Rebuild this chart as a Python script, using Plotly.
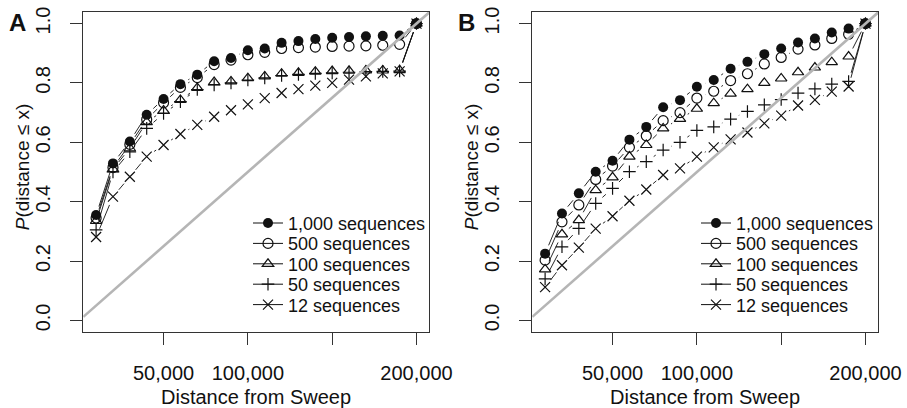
import math
import plotly.graph_objects as go

# Distance from the sweep (bp) at which the cumulative probability is evaluated
distance = [10000, 20000, 30000, 40000, 50000, 60000, 70000, 80000, 90000, 100000,
            110000, 120000, 130000, 140000, 150000, 160000, 170000, 180000, 190000, 200000]

series_labels = ["1,000 sequences", "500 sequences", "100 sequences", "50 sequences", "12 sequences"]

# Panel A: P(distance <= x)
a_seq1000 = [0.355, 0.529, 0.603, 0.693, 0.746, 0.796, 0.828, 0.873, 0.884, 0.910,
             0.916, 0.935, 0.941, 0.948, 0.952, 0.955, 0.957, 0.959, 0.960, 1.0]
a_seq500 = [0.345, 0.515, 0.593, 0.677, 0.733, 0.785, 0.818, 0.862, 0.877, 0.895,
            0.903, 0.916, 0.919, 0.921, 0.923, 0.924, 0.925, 0.927, 0.930, 1.0]
a_seq100 = [0.335, 0.510, 0.580, 0.668, 0.707, 0.743, 0.783, 0.803, 0.805, 0.816,
            0.822, 0.831, 0.834, 0.838, 0.840, 0.841, 0.842, 0.842, 0.843, 1.0]
a_seq50 = [0.305, 0.500, 0.568, 0.647, 0.697, 0.737, 0.778, 0.793, 0.800, 0.810,
           0.817, 0.825, 0.829, 0.832, 0.834, 0.836, 0.838, 0.839, 0.840, 1.0]
a_seq12 = [0.281, 0.417, 0.484, 0.552, 0.591, 0.628, 0.659, 0.686, 0.708, 0.728,
           0.749, 0.766, 0.779, 0.791, 0.800, 0.811, 0.822, 0.832, 0.839, 1.0]

# Panel B: P(distance <= x)
b_seq1000 = [0.225, 0.360, 0.428, 0.501, 0.538, 0.609, 0.652, 0.718, 0.742, 0.787,
             0.810, 0.848, 0.871, 0.897, 0.916, 0.936, 0.950, 0.970, 0.983, 1.0]
b_seq500 = [0.203, 0.332, 0.389, 0.475, 0.520, 0.583, 0.622, 0.673, 0.700, 0.749,
            0.772, 0.808, 0.831, 0.864, 0.886, 0.914, 0.928, 0.950, 0.964, 1.0]
b_seq100 = [0.172, 0.290, 0.338, 0.439, 0.482, 0.552, 0.591, 0.647, 0.679, 0.713,
            0.732, 0.764, 0.779, 0.800, 0.815, 0.836, 0.852, 0.870, 0.889, 1.0]
b_seq50 = [0.140, 0.248, 0.310, 0.394, 0.445, 0.501, 0.535, 0.574, 0.600, 0.640,
           0.652, 0.678, 0.704, 0.726, 0.744, 0.766, 0.780, 0.796, 0.805, 1.0]
b_seq12 = [0.112, 0.186, 0.245, 0.309, 0.351, 0.403, 0.441, 0.490, 0.512, 0.552,
           0.583, 0.610, 0.633, 0.664, 0.690, 0.724, 0.743, 0.771, 0.788, 1.0]

x_tick_values = [50000, 100000, 150000, 200000]
x_tick_labels = ["50,000", "100,000", "", "200,000"]
y_tick_values = [0.0, 0.2, 0.4, 0.6, 0.8, 1.0]
y_tick_labels = ["0.0", "0.2", "0.4", "0.6", "0.8", "1.0"]

# ---------------------------------------------------------------- geometry
W, H = 907, 408
PLOT_W, PLOT_H = 346.0, 320.6
PANEL_LEFT = {"A": 83.3, "B": 532.3}
PLOT_TOP = 11.7
LEGEND_KEY_LEFT = {"A": 253.0, "B": 701.0}
LEGEND_ROW_TOP = 223.3   # centre of the first legend row (px from top)
LEGEND_ROW_STEP = 20.4   # spacing between legend rows (px)

x_span = max(distance) - min(distance)
x_range = [min(distance) - 0.04 * x_span, max(distance) + 0.04 * x_span]
y_range = [-0.04, 1.04]

FONT = "Liberation Sans, Arial, Helvetica, sans-serif"
INK = "#111111"

# marker styles, in series order (1,000 / 500 / 100 / 50 / 12)
marker_styles = [
    dict(symbol="circle", size=10, color=INK, line=dict(width=0, color=INK)),
    dict(symbol="circle-open", size=10, color=INK, line=dict(width=1.2, color=INK)),
    dict(symbol="triangle-up-open", size=10, color=INK, line=dict(width=1.2, color=INK)),
    dict(symbol="cross-thin-open", size=9, color=INK, line=dict(width=1.2, color=INK)),
    dict(symbol="x-thin-open", size=10, color=INK, line=dict(width=1.2, color=INK)),
]

GAP_PX = 9.0  # gap left around each point on the connecting lines


def gapped_path(xs, ys):
    """Connect consecutive points, leaving a gap around each point."""
    sx = PLOT_W / (x_range[1] - x_range[0])
    sy = PLOT_H / (y_range[1] - y_range[0])
    px, py = [], []
    for i in range(len(xs) - 1):
        dx, dy = xs[i + 1] - xs[i], ys[i + 1] - ys[i]
        dist = math.hypot(dx * sx, dy * sy)
        if dist > 2 * GAP_PX:
            f = GAP_PX / dist
            px += [xs[i] + f * dx, xs[i + 1] - f * dx, None]
            py += [ys[i] + f * dy, ys[i + 1] - f * dy, None]
    return px, py


fig = go.Figure()

panels = [
    ("A", "x", "y", [a_seq1000, a_seq500, a_seq100, a_seq50, a_seq12]),
    ("B", "x2", "y2", [b_seq1000, b_seq500, b_seq100, b_seq50, b_seq12]),
]

legend_layouts = {}
legend_font = dict(family=FONT, size=18, color=INK)

for p, (name, xa, ya, values) in enumerate(panels):
    # draw the smallest sample first so the 1,000-sequence points sit on top
    for k in reversed(range(len(values))):
        ys = values[k]
        lx, ly = gapped_path(distance, ys)
        fig.add_trace(go.Scatter(x=lx, y=ly, mode="lines", xaxis=xa, yaxis=ya,
                                 line=dict(color=INK, width=0.9),
                                 showlegend=False, hoverinfo="skip"))
        fig.add_trace(go.Scatter(x=distance, y=ys, mode="markers", xaxis=xa, yaxis=ya,
                                 marker=marker_styles[k], showlegend=False,
                                 name=series_labels[k]))
    # legend: one single-entry legend per row so the row spacing can be set
    for k, label in enumerate(series_labels):
        idx = p * len(series_labels) + k + 1
        key = "legend" if idx == 1 else "legend%d" % idx
        fig.add_trace(go.Scatter(x=[None], y=[None], mode="lines+markers", xaxis=xa, yaxis=ya,
                                 name=label, legend=key,
                                 line=dict(color=INK, width=1), marker=marker_styles[k]))
        legend_layouts[key] = dict(
            font=legend_font, bgcolor="rgba(0,0,0,0)", borderwidth=0,
            xanchor="left", yanchor="middle",
            x=(LEGEND_KEY_LEFT[name] - 5) / W,
            y=1 - (LEGEND_ROW_TOP + k * LEGEND_ROW_STEP) / H,
            itemclick=False, itemdoubleclick=False)
    # uniform expectation y = x / max distance, across the whole panel
    fig.add_trace(go.Scatter(x=x_range, y=[v / max(distance) for v in x_range], mode="lines",
                             xaxis=xa, yaxis=ya, line=dict(color="#b5b5b5", width=2.6),
                             showlegend=False, hoverinfo="skip"))

axis_common = dict(showline=True, linecolor="#333333", linewidth=1, mirror=True,
                   ticks="outside", ticklen=12, tickwidth=1, tickcolor="#333333",
                   showgrid=False, zeroline=False, automargin=False,
                   tickfont=dict(family=FONT, size=20, color=INK))

ydom = [(H - PLOT_TOP - PLOT_H) / H, (H - PLOT_TOP) / H]
layout_axes = {}
for i, name in enumerate(["A", "B"]):
    sfx = "" if i == 0 else "2"
    left = PANEL_LEFT[name]
    layout_axes["xaxis" + sfx] = dict(axis_common, domain=[left / W, (left + PLOT_W) / W],
                                      range=x_range, tickvals=x_tick_values, ticktext=x_tick_labels,
                                      ticklabelstandoff=11, anchor="y" + sfx)
    layout_axes["yaxis" + sfx] = dict(axis_common, domain=ydom, range=y_range,
                                      tickvals=y_tick_values, ticktext=y_tick_labels,
                                      tickangle=-90, ticklabelstandoff=12, anchor="x" + sfx)

annotations = []
for name in ["A", "B"]:
    left = PANEL_LEFT[name]
    annotations.append(dict(text="<b>%s</b>" % name, xref="paper", yref="paper",
                            x=(left - 66) / W, y=1 - 22 / H, showarrow=False,
                            xanchor="center", yanchor="middle",
                            font=dict(family=FONT, size=24, color=INK)))
    annotations.append(dict(text="<i>P</i>(distance ≤ x)", xref="paper", yref="paper",
                            x=(left - 61) / W, y=1 - 167 / H, textangle=-90, showarrow=False,
                            xanchor="center", yanchor="middle",
                            font=dict(family=FONT, size=19, color=INK)))
    annotations.append(dict(text="Distance from Sweep", xref="paper", yref="paper",
                            x=(left + PLOT_W / 2) / W, y=1 - 396.5 / H, showarrow=False,
                            xanchor="center", yanchor="middle",
                            font=dict(family=FONT, size=20, color=INK)))

fig.update_layout(
    width=W, height=H, margin=dict(l=0, r=0, t=0, b=0),
    paper_bgcolor="white", plot_bgcolor="white",
    font=dict(family=FONT, color=INK),
    annotations=annotations,
    **legend_layouts,
    **layout_axes,
)

fig.write_html("out.html")
